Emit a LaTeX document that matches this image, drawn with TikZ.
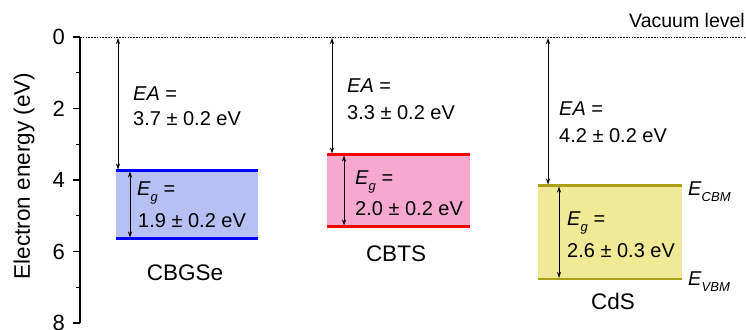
\documentclass[tikz,border=0pt]{standalone}
\usepackage{fontspec}
\setmainfont{Liberation Sans}
\usetikzlibrary{arrows.meta}
\definecolor{bluefill}{RGB}{182,192,242}
\definecolor{blueline}{RGB}{0,0,255}
\definecolor{pinkfill}{RGB}{247,168,207}
\definecolor{redline}{RGB}{255,0,0}
\definecolor{yellowfill}{RGB}{240,234,150}
\definecolor{oliveline}{RGB}{170,160,25}
\newcommand{\sub}[1]{\raisebox{-0.3em}{\fontsize{13}{13}\selectfont\itshape #1}}
\tikzset{
  txt/.style={font=\fontsize{20}{20}\selectfont, inner sep=0pt, anchor=base west},
  ticklab/.style={font=\fontsize{22}{22}\selectfont, inner sep=0pt, anchor=east},
  matname/.style={font=\fontsize{22.5}{22.5}\selectfont, inner sep=0pt, anchor=base},
  dim/.style={{Stealth[length=6pt,width=4pt]}-{Stealth[length=6pt,width=4pt]}, line width=0.7pt},
  band/.style={line width=2.8pt},
}
\begin{document}
\begin{tikzpicture}[x=1pt,y=-1pt]
\useasboundingbox (0,0) rectangle (746,329);
\fill[white] (0,0) rectangle (746,329);

% band boxes
\fill[bluefill] (116,170.5) rectangle (258,238.5);
\draw[band,blueline] (116,170.5) -- (258,170.5);
\draw[band,blueline] (116,238.5) -- (258,238.5);

\fill[pinkfill] (327,154.5) rectangle (470,226.5);
\draw[band,redline] (327,154.5) -- (470,154.5);
\draw[band,redline] (327,226.5) -- (470,226.5);

\fill[yellowfill] (538,185.5) rectangle (682,279);
\draw[band,oliveline] (538,185.5) -- (682,185.5);
\draw[band,oliveline] (538,279) -- (682,279);

% vacuum level
\draw[line width=0.8pt, dash pattern=on 1.6pt off 1.2pt] (80,37) -- (746,37);
\node[font=\fontsize{19.5}{19.5}\selectfont, inner sep=0pt, anchor=base east] (vac) at (745,28) {Vacuum level};

% axis
\draw[line width=1.1pt] (80,37) -- (80,323);
\foreach \e/\l in {0/0,2/2,4/4,6/6,8/8}{
  \draw[line width=1.1pt] (80,{37+35.75*\e}) -- (73,{37+35.75*\e});
  \node[ticklab] (t\e) at (65,{37+35.75*\e}) {\l};
}
\foreach \e in {1,3,5,7}{
  \draw[line width=1.1pt] (80,{37+35.75*\e}) -- (76,{37+35.75*\e});
}
\node[font=\fontsize{22.5}{22.5}\selectfont, inner sep=0pt, rotate=90] (ylab) at (24,176) {Electron energy (eV)};

% CBGSe
\coordinate (ea1a) at (118,38);
\coordinate (ea1b) at (118,169.5);
\draw[dim] (ea1a) -- (ea1b);
\coordinate (eg1a) at (130,171.5);
\coordinate (eg1b) at (130,237.5);
\draw[dim] (eg1a) -- (eg1b);
\node[txt] (ea1) at (133,100) {\textit{EA} =};
\node[txt] (ea1v) at (133,125.5) {3.7 ± 0.2 eV};
\node[txt] (eg1) at (137,195) {\textit{E}\sub{g} =};
\node[txt] (eg1v) at (138,227) {1.9 ± 0.2 eV};
\node[matname] (n1) at (185,280) {CBGSe};

% CBTS
\coordinate (ea2a) at (332,38);
\coordinate (ea2b) at (332,153.5);
\draw[dim] (ea2a) -- (ea2b);
\coordinate (eg2a) at (344,155.5);
\coordinate (eg2b) at (344,225.5);
\draw[dim] (eg2a) -- (eg2b);
\node[txt] (ea2) at (347,92) {\textit{EA} =};
\node[txt] (ea2v) at (347,119) {3.3 ± 0.2 eV};
\node[txt] (eg2) at (355,184) {\textit{E}\sub{g} =};
\node[txt] (eg2v) at (355,215) {2.0 ± 0.2 eV};
\node[matname] (n2) at (396,261) {CBTS};

% CdS
\coordinate (ea3a) at (548,38);
\coordinate (ea3b) at (548,184.5);
\draw[dim] (ea3a) -- (ea3b);
\coordinate (eg3a) at (559,186.5);
\coordinate (eg3b) at (559,278);
\draw[dim] (eg3a) -- (eg3b);
\node[txt] (ea3) at (559,115) {\textit{EA} =};
\node[txt] (ea3v) at (559,142) {4.2 ± 0.2 eV};
\node[txt] (eg3) at (567,225) {\textit{E}\sub{g} =};
\node[txt] (eg3v) at (567,257) {2.6 ± 0.3 eV};
\node[matname] (n3) at (613,309) {CdS};
\node[txt] (cbm) at (688,195) {\textit{E}\sub{CBM}};
\node[txt] (vbm) at (688,285) {\textit{E}\sub{VBM}};
\end{tikzpicture}
\end{document}
